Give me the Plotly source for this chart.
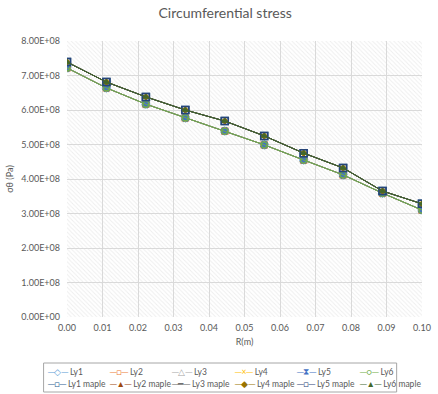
import plotly.graph_objects as go

# ---- data ----
r_m = [0.0, 0.1/9, 0.2/9, 0.3/9, 0.4/9, 0.5/9, 0.6/9, 0.7/9, 0.8/9, 0.1]
sigma_ly = [7.22e8, 6.64e8, 6.17e8, 5.77e8, 5.39e8, 4.99e8, 4.55e8, 4.12e8, 3.59e8, 3.10e8]
sigma_maple = [7.39e8, 6.81e8, 6.38e8, 6.00e8, 5.68e8, 5.25e8, 4.75e8, 4.32e8, 3.65e8, 3.28e8]

ly_names = ["Ly1", "Ly2", "Ly3", "Ly4", "Ly5", "Ly6"]
maple_names = ["Ly1 maple", "Ly2 maple", "Ly3 maple", "Ly4 maple", "Ly5 maple", "Ly6 maple"]
ly_colors = ["#5B9BD5", "#ED7D31", "#A5A5A5", "#FFC000", "#4472C4", "#70AD47"]
maple_colors = ["#255E91", "#9E480E", "#636363", "#997300", "#264478", "#43682B"]
ly_symbols = ["diamond-open", "square-open", "triangle-up-open", "x", "x", "circle-open"]
maple_symbols = ["square-open", "triangle-up", "line-ew-open", "diamond", "square-open", "triangle-up"]
ly_glyphs = ["◇", "□", "△", "×", "⧗", "○"]
maple_glyphs = ["□", "▲", "━", "◆", "□", "▲"]

x_ticks = [0.0, 0.01, 0.02, 0.03, 0.04, 0.05, 0.06, 0.07, 0.08, 0.09, 0.10]
y_ticks = [0, 1e8, 2e8, 3e8, 4e8, 5e8, 6e8, 7e8, 8e8]
y_ticktext = [f"{v:.2E}" for v in y_ticks]

W, H = 438, 394
L, R, T, B = 67, 7, 41, 77
pw, ph = W - L - R, H - T - B

def px_x(px):
    return (px - L) / pw

def px_y(py):
    return (H - B - py) / ph

fig = go.Figure()

# hatched plot-area background (on hidden base axes)
fig.add_trace(go.Bar(
    x=[0.5], y=[1], width=[1], xaxis="x", yaxis="y",
    marker=dict(color="rgba(0,0,0,0)", line=dict(width=0),
                pattern=dict(shape="\\", fgcolor="#DCDCDC", bgcolor="rgba(0,0,0,0)",
                             size=3, solidity=0.3)),
    showlegend=False, hoverinfo="skip"))

for name, col, sym in zip(ly_names, ly_colors, ly_symbols):
    fig.add_trace(go.Scatter(
        x=r_m, y=sigma_ly, name=name, mode="lines+markers",
        xaxis="x2", yaxis="y2", showlegend=False,
        line=dict(color=col, width=1),
        marker=dict(symbol=sym, size=6, color=col, line=dict(color=col, width=1.3))))

for name, col, sym in zip(maple_names, maple_colors, maple_symbols):
    fig.add_trace(go.Scatter(
        x=r_m, y=sigma_maple, name=name, mode="lines+markers",
        xaxis="x2", yaxis="y2", showlegend=False,
        line=dict(color=col, width=1),
        marker=dict(symbol=sym, size=7 if "square" in sym else 5, color=col,
                    line=dict(color=col, width=1.5 if "square" in sym else 1))))

font_fam = "Lato, Open Sans, sans-serif"
grey = "#595959"
tick_font = dict(family=font_fam, size=9, color=grey)

# legend drawn as coloured text entries (two rows, six columns)
col_x = [44, 108, 172, 236, 300, 364]
annotations = []
for row_y, names, colors, glyphs in [(372, ly_names, ly_colors, ly_glyphs),
                                      (384, maple_names, maple_colors, maple_glyphs)]:
    for cx, name, col, g in zip(col_x, names, colors, glyphs):
        annotations.append(dict(
            xref="paper", yref="paper", x=px_x(cx), y=px_y(row_y),
            xanchor="left", yanchor="middle", showarrow=False,
            text=f"<span style='color:{col}'>─{g}─</span> {name}",
            font=dict(family=font_fam, size=8.5, color=grey)))

fig.update_layout(
    width=W, height=H,
    margin=dict(l=L, r=R, t=T, b=B),
    paper_bgcolor="white", plot_bgcolor="white",
    showlegend=False,
    title=dict(text="Circumferential stress", x=0.514, xanchor="center",
               y=1 - 13 / H, yanchor="middle",
               font=dict(family=font_fam, size=14, color=grey)),
    xaxis=dict(range=[0, 1], visible=False, showgrid=False, fixedrange=True),
    yaxis=dict(range=[0, 1], visible=False, showgrid=False, fixedrange=True),
    xaxis2=dict(range=[0, 0.1], overlaying="x", tickvals=x_ticks, tickformat=".2f",
                ticklabeloverflow="allow", ticklabelstandoff=4,
                showgrid=True, gridcolor="#D9D9D9", gridwidth=1,
                zeroline=False, showline=False, ticks="", tickfont=tick_font,
                title=dict(text="R(m)", font=dict(family=font_fam, size=9, color=grey),
                           standoff=6)),
    yaxis2=dict(range=[0, 8e8], overlaying="y", tickvals=y_ticks, ticktext=y_ticktext,
                ticklabelstandoff=6,
                showgrid=True, gridcolor="#D9D9D9", gridwidth=1,
                zeroline=False, showline=False, ticks="", tickfont=tick_font,
                title=dict(text="σθ (Pa)", font=dict(family=font_fam, size=9, color=grey),
                           standoff=6)),
    annotations=annotations,
    shapes=[dict(type="rect", xref="paper", yref="paper",
                 x0=px_x(43), x1=px_x(405), y0=px_y(392), y1=px_y(363),
                 line=dict(color="#A6A6A6", width=1), fillcolor="rgba(0,0,0,0)")],
    bargap=0,
)

fig.write_html("out.html")
